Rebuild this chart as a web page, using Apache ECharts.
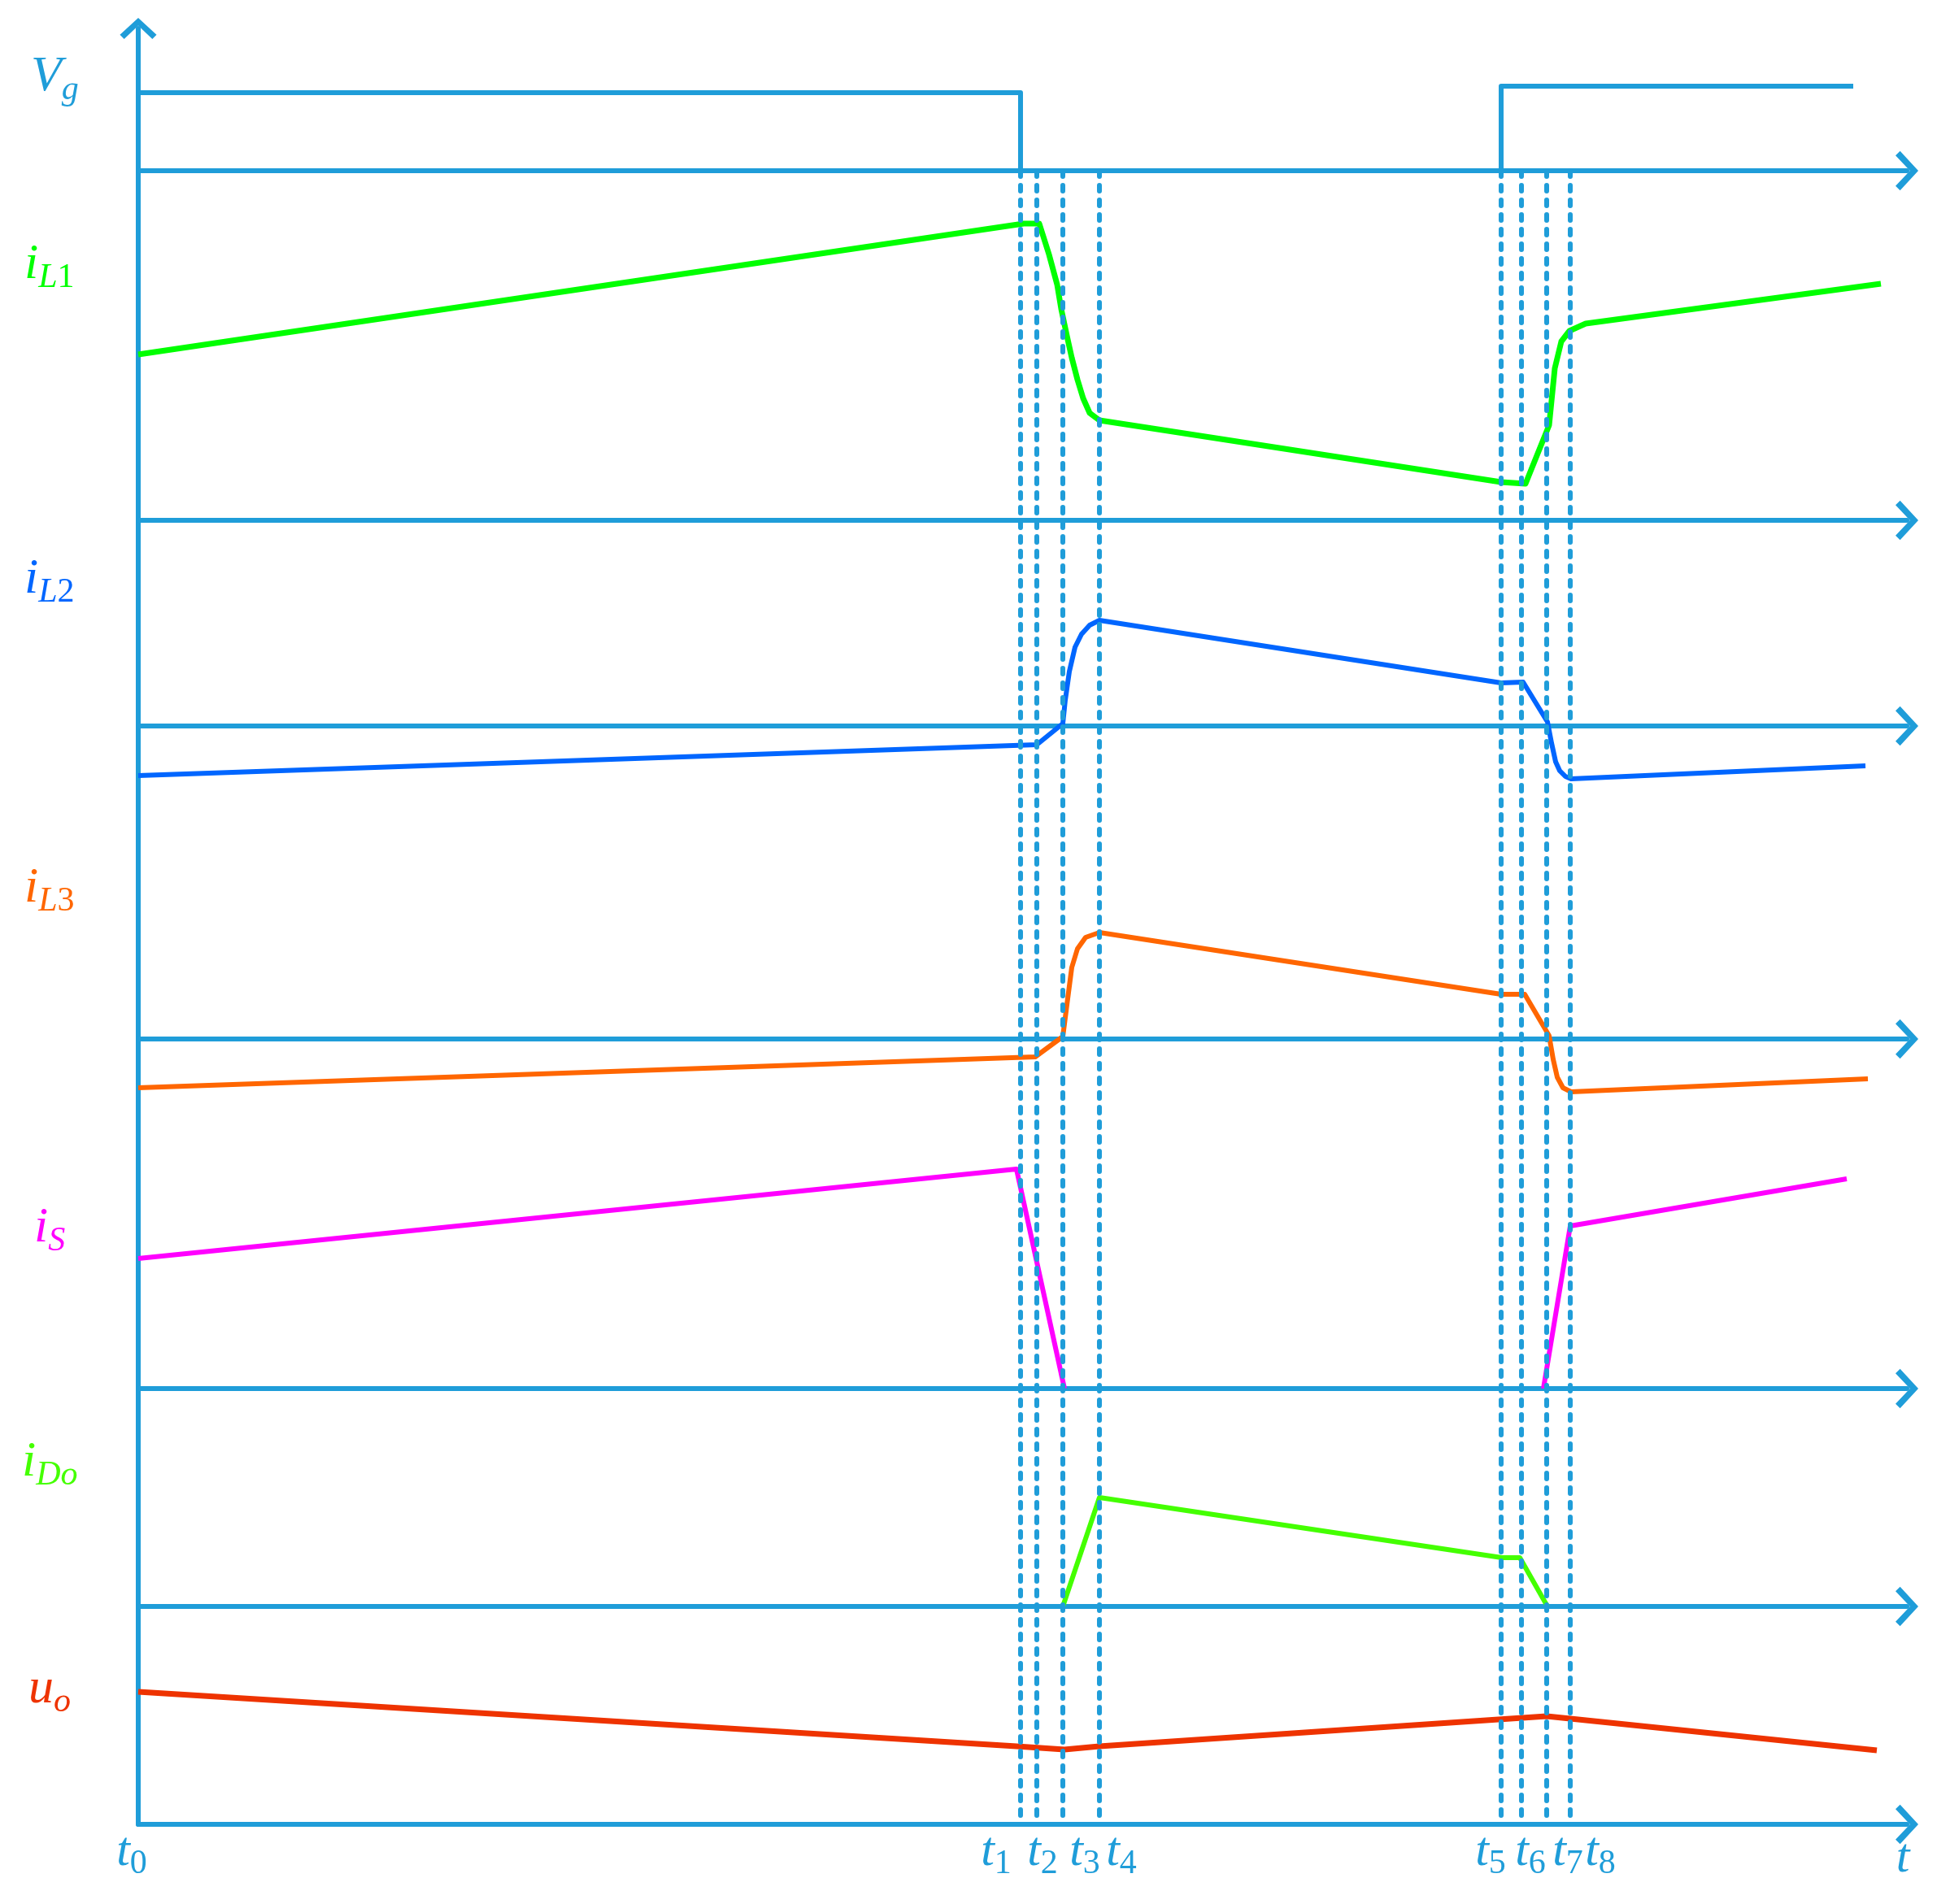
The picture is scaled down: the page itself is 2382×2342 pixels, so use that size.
<!DOCTYPE html>
<html>
<head>
<meta charset="utf-8">
<title>switching waveforms</title>
<script src="https://cdn.jsdelivr.net/npm/echarts@6/dist/echarts.min.js"></script>
<style>
  html, body { margin: 0; padding: 0; background: #fff; }
  #chart { width: 2382px; height: 2342px; }
</style>
</head>
<body>
<div id="chart"></div>
<script>
// time instants t0..t8 (arbitrary time units, t0 = 0)
const tickTimes = [0, 108.5, 110.5, 113.7, 118.2, 167.6, 170.1, 173.2, 176.1]
const tickNames = ['0', '1', '2', '3', '4', '5', '6', '7', '8']
const timeEnd = 217.5
const timeLabelAt = 217

// waveforms as [t, value]; value is measured from the trace's own zero line
const vgData = [[0, 9.6], [108.5, 9.6], [108.5, 0], [167.6, 0], [167.6, 10.4], [210.9, 10.4]]
const iL1Data = [[0, 20.4], [108.9, 36.5], [110.8, 36.5], [112.0, 32.7], [113.0, 29.0], [113.5, 26.0],
  [114.2, 22.7], [114.8, 20.0], [115.5, 17.3], [116.2, 15.0], [117.0, 13.2], [118.2, 12.3],
  [167.6, 4.7], [170.6, 4.5], [173.5, 11.7], [174.2, 18.7], [175.0, 22.0], [176.0, 23.3],
  [178.0, 24.2], [214.3, 29.1]]
const iL2Data = [[0, -6.1], [110.5, -2.3], [113.7, 0.3], [114.0, 3.2], [114.5, 6.7], [115.2, 9.7],
  [116.0, 11.3], [117.0, 12.4], [118.2, 13.0], [167.6, 5.3], [170.3, 5.4], [173.3, 0.5],
  [173.8, -2.1], [174.3, -4.4], [174.8, -5.5], [175.5, -6.2], [176.2, -6.5], [212.4, -4.9]]
const iL3Data = [[0, -6.0], [110.3, -2.2], [113.7, 0.3], [114.2, 4.2], [114.8, 8.8], [115.5, 11.1],
  [116.5, 12.5], [118.2, 13.1], [167.6, 5.5], [170.5, 5.5], [173.5, 0.4], [174.0, -2.5],
  [174.5, -4.7], [175.2, -6.0], [176.2, -6.5], [212.7, -4.9]]
const iSData = [[0, 16.0], [108.0, 27.0], [113.9, 0], [140, '-'], [172.8, 0], [176.1, 20.0], [210.1, 25.8]]
const iDoData = [[113.7, 0], [118.2, 13.4], [167.7, 6.0], [169.9, 6.0], [173.3, 0]]
const uoData = [[0, 16.3], [108.0, 9.6], [113.9, 9.2], [118.2, 9.6], [173.2, 13.3], [213.8, 9.1]]

const traceData = [vgData, iL1Data, iL2Data, iL3Data, iSData, iDoData, uoData]
const traceLabels = ['{m|V}{s|g}', '{m|i}{s|L}{n|1}', '{m|i}{s|L}{n|2}', '{m|i}{s|L}{n|3}',
  '{m|i}{s|S}', '{m|i}{s|Do}', '{m|u}{s|o}']

// look
const AXIS_BLUE = '#1f9dd9'
const traceColors = [AXIS_BLUE, '#00ff00', '#0066ff', '#ff6600', '#ff00ff', '#44ff00', '#ee3300']
const traceWidths = [6, 7, 6, 6, 6, 6, 7]
const chevron = 'path://M0,24L26,0L52,24L46,30L26,11L6,30Z'
const SERIF = 'Liberation Serif'

// layout (pixels)
const GRID = { left: 170, right: 37, top: 35, bottom: 98 }
const plotBottom = 2342 - GRID.bottom
const zeroLines = [210, 640, 893, 1278, 1708, 1976, 2244]
const PX_PER_UNIT = 10
const labelPos = [[38, 132], [30, 363], [30, 750], [30, 1130], [42, 1548], [27, 1836], [35, 2115]]
const tickShift = [-8, -30, 7, 27, 27, -13, 11, 26, 37]

const yAxes = zeroLines.map((z, k) => ({
  type: 'value',
  gridIndex: 0,
  position: 'left',
  min: -(plotBottom - z) / PX_PER_UNIT,
  max: (z - GRID.top) / PX_PER_UNIT,
  axisLine: k === 6
    ? { show: true, onZero: false, symbol: ['none', chevron], symbolSize: [48, 26], lineStyle: { color: AXIS_BLUE, width: 6 } }
    : { show: false },
  axisTick: { show: false },
  axisLabel: { show: false },
  splitLine: { show: false }
}))

const tickRich = {
  m: { fontFamily: SERIF, fontStyle: 'italic', fontSize: 60, color: AXIS_BLUE, padding: [0, 0, 6, 0], verticalAlign: 'bottom' },
  mt: { fontFamily: SERIF, fontStyle: 'italic', fontSize: 60, color: AXIS_BLUE, padding: [8, 0, 0, 0], verticalAlign: 'bottom' },
  n: { fontFamily: SERIF, fontSize: 42, color: AXIS_BLUE, verticalAlign: 'bottom' }
}
tickShift.forEach((d, i) => { tickRich['sp' + i] = { width: 2 * Math.abs(d), height: 10 } })

const xAxes = zeroLines.map((z, k) => ({
  type: 'value',
  gridIndex: 0,
  position: 'bottom',
  min: 0,
  max: timeEnd,
  axisLine: {
    show: true, onZero: true, onZeroAxisIndex: k,
    symbol: ['none', chevron], symbolSize: [52, 28],
    lineStyle: { color: AXIS_BLUE, width: 6 }
  },
  axisTick: { show: false },
  splitLine: { show: false },
  axisLabel: k === 6
    ? {
        show: true,
        customValues: tickTimes.concat([timeLabelAt]),
        showMinLabel: true,
        showMaxLabel: true,
        margin: 4,
        rich: tickRich,
        formatter: (v) => {
          if (v === timeLabelAt) return '{mt|t}'
          const i = tickTimes.indexOf(v)
          const sp = '{sp' + i + '|}'
          const body = '{m|t}{n|' + tickNames[i] + '}'
          return tickShift[i] > 0 ? sp + body : body + sp
        }
      }
    : { show: false }
}))

const series = traceData.map((d, k) => ({
  type: 'line',
  xAxisIndex: k,
  yAxisIndex: k,
  data: d,
  symbol: 'none',
  silent: true,
  z: 3,
  lineStyle: { color: traceColors[k], width: traceWidths[k], join: 'round' }
}))

// dashed instants t1..t8 from the Vg zero line down to the time axis
series[0].markLine = {
  silent: true,
  symbol: ['none', 'none'],
  label: { show: false },
  lineStyle: { color: AXIS_BLUE, width: 6, type: [7, 11], cap: 'round' },
  data: tickTimes.slice(1).map(t => [{ coord: [t, 0] }, { coord: [t, yAxes[0].min] }])
}

const labelRich = (color) => ({
  m: { fontFamily: SERIF, fontStyle: 'italic', fontSize: 62, fill: color, padding: [0, 0, 6, 0], verticalAlign: 'bottom' },
  s: { fontFamily: SERIF, fontStyle: 'italic', fontSize: 42, fill: color, verticalAlign: 'bottom' },
  n: { fontFamily: SERIF, fontSize: 42, fill: color, verticalAlign: 'bottom' }
})

const chart = echarts.init(document.getElementById('chart'))
chart.setOption({
  animation: false,
  backgroundColor: '#ffffff',
  grid: { left: GRID.left, right: GRID.right, top: GRID.top, bottom: GRID.bottom },
  xAxis: xAxes,
  yAxis: yAxes,
  series: series,
  graphic: traceLabels.map((txt, k) => ({
    type: 'text',
    x: labelPos[k][0],
    y: labelPos[k][1],
    silent: true,
    style: {
      text: txt,
      align: 'left',
      verticalAlign: 'bottom',
      fill: traceColors[k],
      rich: labelRich(traceColors[k])
    }
  }))
})
</script>
</body>
</html>
